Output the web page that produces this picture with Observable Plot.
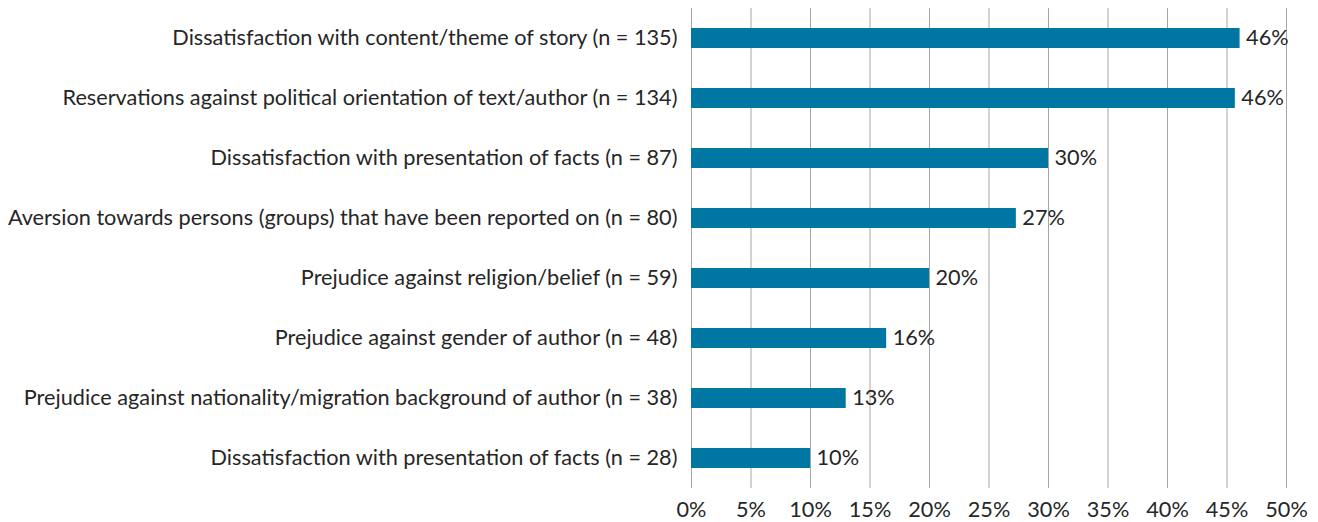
<!DOCTYPE html>
<html>
<head>
<meta charset="utf-8">
<script src="https://cdn.jsdelivr.net/npm/d3@7"></script>
<script src="https://cdn.jsdelivr.net/npm/@observablehq/plot@0.6"></script>
<style>
  html, body { margin: 0; padding: 0; background: #fff; }
  #chart svg { display: block; }
</style>
</head>
<body>
<div id="chart"></div>
<script>
const categories = [
  "Dissatisfaction with content/theme of story (n = 135)",
  "Reservations against political orientation of text/author (n = 134)",
  "Dissatisfaction with presentation of facts (n = 87)",
  "Aversion towards persons (groups) that have been reported on (n = 80)",
  "Prejudice against religion/belief (n = 59)",
  "Prejudice against gender of author (n = 48)",
  "Prejudice against nationality/migration background of author (n = 38)",
  "Dissatisfaction with presentation of facts (n = 28)"
];
const shares = [46.1, 45.7, 30.0, 27.3, 20.0, 16.4, 13.0, 10.0];
const valueLabels = ["46%", "46%", "30%", "27%", "20%", "16%", "13%", "10%"];
const xTicks = [0, 5, 10, 15, 20, 25, 30, 35, 40, 45, 50];

// rows keyed by index so the two identically-named categories stay separate
const data = categories.map((c, i) => ({key: i, label: c, value: shares[i], text: valueLabels[i]}));

const font = "Lato, 'Open Sans', sans-serif";
const textColor = "#262626";
const fs = 21.7;

const chart = Plot.plot({
  width: 1318,
  height: 522,
  marginLeft: 691,
  marginRight: 32,
  marginTop: 8,
  marginBottom: 34,
  style: {fontFamily: font, color: textColor, background: "#fff"},
  x: {domain: [0, 50]},
  y: {domain: data.map(d => d.key), padding: 0.667, paddingOuter: 0.333},
  marks: [
    Plot.gridX(xTicks, {stroke: "#a6a6a6", strokeOpacity: 1, strokeWidth: 1}),
    Plot.barX(data, {x: "value", y: "key", fill: "#0077a3"}),
    Plot.text(data, {x: "value", y: "key", text: "text", textAnchor: "start", dx: 6, fontSize: fs, fill: textColor}),
    Plot.axisY({
      tickSize: 0,
      tickPadding: 14,
      fontSize: fs,
      tickFormat: i => categories[i],
      label: null
    }),
    Plot.axisX(xTicks, {
      tickSize: 0,
      tickPadding: 13,
      fontSize: fs,
      tickFormat: d => d + "%",
      label: null
    })
  ]
});
document.getElementById("chart").appendChild(chart);
</script>
</body>
</html>
